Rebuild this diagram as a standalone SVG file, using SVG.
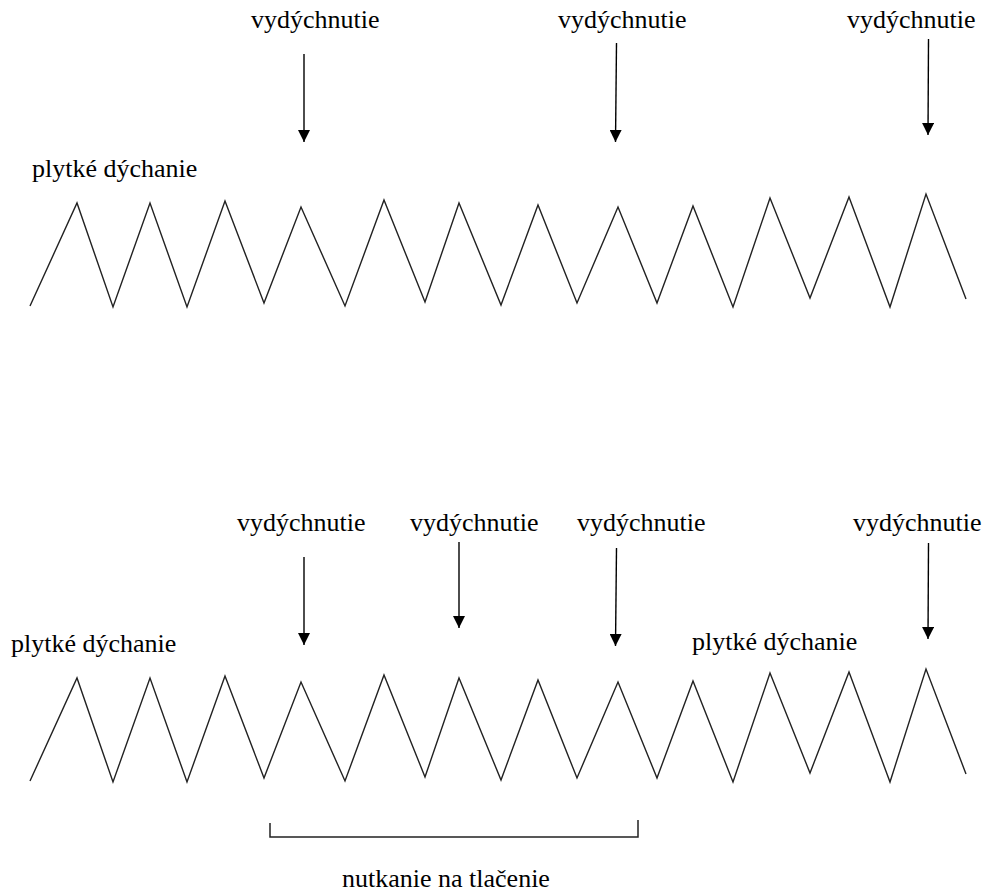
<svg xmlns="http://www.w3.org/2000/svg" width="988" height="894" viewBox="0 0 988 894">
<style>
  .t { font-size: 26px; fill: #000; }
  .zig { fill: none; stroke: #222; stroke-width: 1.4; stroke-linejoin: miter; }
  .arr { stroke: #000; stroke-width: 1.4; fill: none; }
  .br { fill: none; stroke: #222; stroke-width: 1.5; }
</style>
<defs>
  <marker id="ah" markerUnits="userSpaceOnUse" markerWidth="12" markerHeight="12" refX="12" refY="6" orient="auto">
    <path d="M0,0 L12,6 L0,12 Z" fill="#000"/>
  </marker>
</defs>
<rect width="988" height="894" fill="#fff"/>

<g id="top-section" font-family="'Liberation Serif', 'DejaVu Serif', serif">
  <g id="top-label-shallow"><text class="t" x="32" y="177">plytké dýchanie</text></g>
  <g id="top-label-1"><text class="t" x="251" y="28">vydýchnutie</text></g>
  <g id="top-label-2"><text class="t" x="558" y="28">vydýchnutie</text></g>
  <g id="top-label-3"><text class="t" x="847" y="28">vydýchnutie</text></g>
  <g id="top-wave">
    <polyline class="zig" points="30,306 77,203 113,307 150,203 187,307 225,201 264,303 301,207 345,306 384,200 425,302 459,203 501,305 538,205 577,303 618,207 657,303 693,206 733,307 770,198 810,298 849,197 890,307 926,194 966,299"/>
  </g>
</g>

<g id="bottom-section" font-family="'Liberation Serif', 'DejaVu Serif', serif">
  <g id="bot-label-shallow-1"><text class="t" x="11" y="652">plytké dýchanie</text></g>
  <g id="bot-label-shallow-2"><text class="t" x="692" y="650">plytké dýchanie</text></g>
  <g id="bot-label-1"><text class="t" x="237" y="531">vydýchnutie</text></g>
  <g id="bot-label-2"><text class="t" x="410" y="531">vydýchnutie</text></g>
  <g id="bot-label-3"><text class="t" x="577" y="531">vydýchnutie</text></g>
  <g id="bot-label-4"><text class="t" x="853" y="531">vydýchnutie</text></g>
  <g id="bottom-wave">
    <polyline class="zig" points="30,781 77,678 113,782 150,678 187,782 225,676 264,778 301,682 345,781 384,675 425,777 459,678 501,780 538,680 577,778 618,682 657,778 693,681 733,782 770,673 810,773 849,672 890,782 926,669 966,774"/>
  </g>
  <g id="bracket">
    <polyline class="br" points="270,823 270,837 638,837 638,820"/>
    <text class="t" x="342" y="887">nutkanie na tlačenie</text>
  </g>
</g>

<g id="connectors">
  <line class="arr" x1="304" y1="54" x2="304" y2="142" marker-end="url(#ah)"/>
  <line class="arr" x1="616.5" y1="43" x2="615.5" y2="142" marker-end="url(#ah)"/>
  <line class="arr" x1="928.5" y1="39" x2="928" y2="135" marker-end="url(#ah)"/>
  <line class="arr" x1="304" y1="557" x2="304" y2="645" marker-end="url(#ah)"/>
  <line class="arr" x1="459" y1="542" x2="459" y2="628" marker-end="url(#ah)"/>
  <line class="arr" x1="616.5" y1="548" x2="615.5" y2="646" marker-end="url(#ah)"/>
  <line class="arr" x1="928.5" y1="543" x2="928" y2="639" marker-end="url(#ah)"/>
</g>
</svg>
